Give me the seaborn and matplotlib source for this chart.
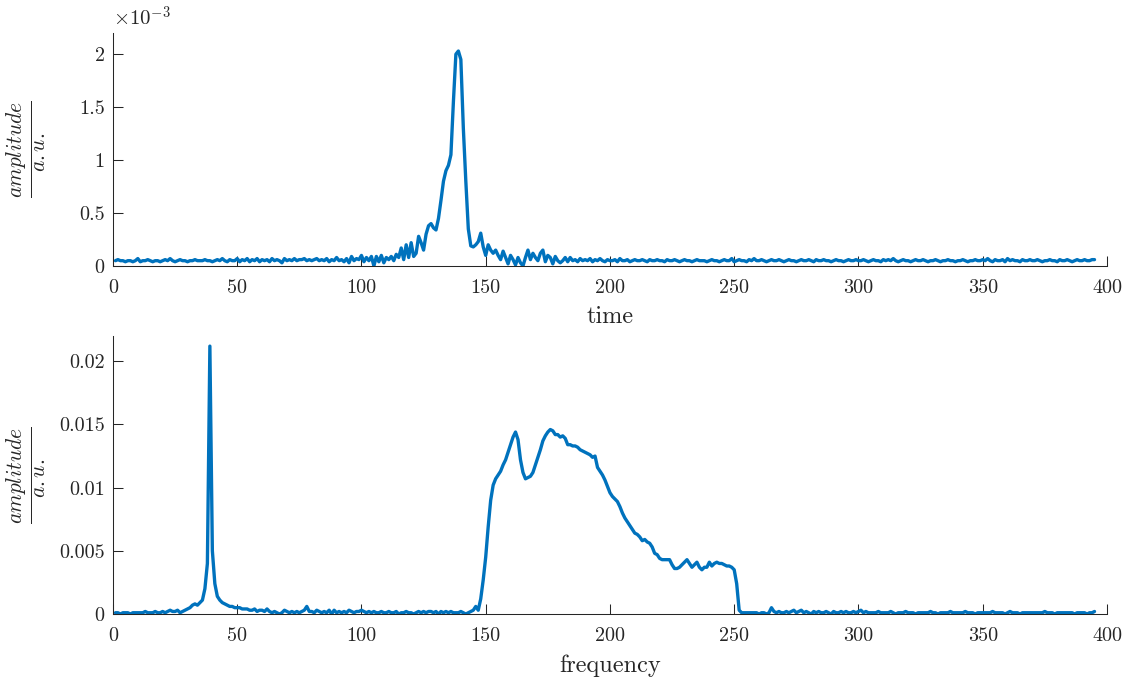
import numpy as np
import matplotlib
matplotlib.use("Agg")
import matplotlib.pyplot as plt
from matplotlib.ticker import FuncFormatter
import seaborn as sns

# time-domain amplitude, units of 1e-5 a.u. (samples 1..395)
top_e5 = [
    5, 6, 5, 5, 4, 5, 5, 4, 5, 7,
    4, 5, 5, 6, 5, 4, 5, 5, 4, 5,
    6, 5, 7, 5, 4, 5, 6, 5, 5, 4,
    5, 5, 6, 5, 5, 5, 6, 5, 5, 4,
    5, 6, 5, 7, 5, 4, 6, 5, 5, 7,
    4, 6, 5, 7, 4, 6, 5, 7, 4, 6,
    5, 6, 4, 7, 5, 6, 5, 3, 7, 5,
    6, 5, 7, 5, 6, 6, 7, 5, 6, 5,
    6, 7, 5, 6, 5, 7, 4, 6, 5, 8,
    5, 6, 4, 7, 3, 9, 5, 7, 6, 10,
    4, 8, 5, 9, 0, 9, 4, 10, 3, 8,
    6, 9, 5, 11, 8, 17, 6, 20, 8, 22,
    9, 12, 28, 22, 15, 30, 38, 40, 36, 34,
    45, 62, 80, 90, 95, 105, 155, 200, 203, 195,
    130, 80, 35, 19, 18, 20, 23, 31, 18, 10,
    20, 15, 12, 15, 10, 6, 14, 8, 2, 10,
    6, 1, 8, 3, 0, 8, 15, 6, 12, 8,
    5, 12, 15, 4, 10, 8, 2, 9, 5, 3,
    5, 8, 4, 8, 5, 6, 4, 7, 5, 6,
    5, 7, 4, 6, 5, 7, 5, 4, 6, 5,
    5, 6, 4, 7, 5, 5, 6, 4, 5, 6,
    5, 5, 6, 5, 4, 6, 5, 5, 6, 5,
    5, 4, 6, 5, 5, 6, 5, 4, 5, 6,
    5, 5, 4, 5, 6, 5, 5, 5, 4, 5,
    6, 5, 5, 4, 5, 6, 5, 5, 7, 4,
    5, 6, 5, 5, 4, 6, 5, 7, 5, 5,
    6, 5, 4, 5, 6, 5, 5, 6, 5, 4,
    5, 6, 5, 5, 4, 5, 6, 5, 5, 6,
    5, 4, 6, 5, 5, 6, 5, 5, 4, 5,
    6, 5, 5, 4, 5, 6, 5, 5, 6, 5,
    5, 6, 5, 4, 5, 6, 5, 5, 4, 6,
    5, 6, 5, 7, 5, 4, 5, 6, 5, 5,
    4, 5, 6, 5, 5, 6, 5, 4, 5, 5,
    6, 5, 4, 5, 5, 6, 5, 5, 4, 5,
    5, 6, 5, 4, 5, 5, 6, 5, 5, 6,
    5, 7, 5, 4, 6, 5, 5, 6, 4, 7,
    5, 6, 5, 5, 4, 6, 5, 5, 6, 5,
    5, 6, 5, 4, 5, 5, 6, 5, 5, 4,
    6, 5, 5, 6, 5, 4, 5, 6, 5, 5,
    6, 5, 5, 6, 6,
]

# spectrum amplitude, units of 1e-4 a.u. (bins 1..395)
bottom_e4 = [
    1, 1, 0, 1, 1, 1, 0, 1, 1, 1,
    1, 1, 2, 1, 1, 1, 2, 1, 1, 2,
    1, 2, 3, 2, 2, 3, 1, 2, 3, 4,
    5, 7, 8, 7, 9, 11, 20, 40, 212, 50,
    24, 14, 11, 9, 8, 7, 6, 6, 5, 5,
    5, 4, 4, 4, 3, 3, 4, 2, 3, 3,
    2, 4, 2, 1, 2, 1, 0, 1, 3, 2,
    1, 2, 1, 2, 1, 2, 3, 6, 2, 2,
    1, 3, 2, 1, 2, 1, 3, 0, 3, 1,
    2, 1, 2, 1, 3, 2, 1, 2, 2, 3,
    2, 1, 2, 1, 2, 1, 1, 2, 1, 1,
    2, 1, 1, 2, 0, 1, 1, 2, 1, 1,
    0, 1, 2, 1, 2, 1, 2, 2, 1, 2,
    0, 2, 1, 2, 1, 2, 1, 1, 1, 2,
    1, 0, 1, 2, 3, 6, 3, 12, 27, 45,
    69, 90, 102, 107, 110, 113, 118, 122, 128, 134,
    140, 144, 138, 122, 112, 107, 108, 109, 112, 118,
    124, 130, 137, 141, 144, 146, 145, 142, 142, 140,
    141, 139, 134, 134, 133, 133, 132, 130, 129, 128,
    127, 126, 124, 125, 116, 113, 110, 106, 101, 96,
    93, 91, 89, 85, 80, 76, 73, 70, 67, 64,
    63, 61, 58, 59, 57, 56, 53, 48, 47, 44,
    43, 43, 43, 43, 39, 36, 36, 37, 39, 41,
    43, 40, 37, 39, 41, 37, 35, 37, 37, 41,
    38, 40, 41, 40, 40, 39, 38, 38, 37, 35,
    24, 3, 1, 1, 1, 1, 1, 1, 1, 0,
    1, 1, 0, 1, 5, 2, 1, 2, 1, 1,
    2, 1, 2, 3, 1, 2, 3, 1, 2, 1,
    0, 2, 1, 2, 1, 1, 2, 1, 0, 2,
    1, 1, 2, 1, 2, 1, 1, 2, 1, 2,
    3, 1, 2, 1, 1, 1, 1, 2, 1, 1,
    1, 1, 2, 1, 0, 1, 1, 1, 2, 1,
    1, 1, 0, 1, 1, 1, 1, 1, 2, 1,
    1, 0, 1, 1, 1, 1, 2, 1, 1, 1,
    1, 1, 2, 1, 1, 1, 0, 1, 1, 1,
    1, 1, 1, 2, 1, 1, 1, 1, 0, 1,
    2, 1, 1, 1, 0, 1, 1, 1, 1, 1,
    1, 1, 1, 1, 2, 1, 1, 1, 0, 1,
    1, 1, 1, 1, 1, 1, 0, 1, 1, 1,
    1, 0, 1, 1, 2,
]

top_amp = np.array(top_e5) * 1e-5
bottom_amp = np.array(bottom_e4) * 1e-4
t = np.arange(1, len(top_amp) + 1)
f = np.arange(1, len(bottom_amp) + 1)

xticks = [0, 50, 100, 150, 200, 250, 300, 350, 400]
top_yticks = [0, 0.5e-3, 1e-3, 1.5e-3, 2e-3]
bottom_yticks = [0, 0.005, 0.01, 0.015, 0.02]

sns.set_style("ticks")
plt.rcParams["font.family"] = ["cmr10"]
plt.rcParams["mathtext.fontset"] = "cm"
plt.rcParams["axes.formatter.use_mathtext"] = True

blue = "#0072BD"
dark = "#262626"

fig = plt.figure(figsize=(11.33, 6.82), dpi=100)
ax1 = fig.add_axes([0.0997, 0.610, 0.8773, 0.3416])
ax2 = fig.add_axes([0.0997, 0.0997, 0.8773, 0.4076])

sns.lineplot(x=t, y=top_amp, ax=ax1, color=blue, linewidth=2.4)
sns.lineplot(x=f, y=bottom_amp, ax=ax2, color=blue, linewidth=2.4)

for ax in (ax1, ax2):
    sns.despine(ax=ax)
    ax.set_xlim(0, 400)
    ax.set_xticks(xticks)
    ax.xaxis.set_major_formatter(FuncFormatter(lambda v, p: f"{v:g}"))
    ax.tick_params(direction="in", length=7, width=0.75, colors=dark,
                   labelsize=14.5, pad=6)
    ax.tick_params(axis="x", pad=9.5)
    for s in ("left", "bottom"):
        ax.spines[s].set_color(dark)
        ax.spines[s].set_linewidth(0.75)

ax1.set_ylim(0, 2.2e-3)
ax1.set_yticks(top_yticks)
ax1.yaxis.set_major_formatter(FuncFormatter(lambda v, p: f"{v * 1e3:g}"))
ax1.text(0.0, 1.015, r"$\times10^{-3}$", transform=ax1.transAxes,
         fontsize=15, color=dark, ha="left", va="bottom")

ax2.set_ylim(0, 0.022)
ax2.set_yticks(bottom_yticks)
ax2.yaxis.set_major_formatter(FuncFormatter(lambda v, p: f"{v:g}"))

ylab = r"$\frac{amplitude}{a.u.}$"
ax1.set_ylabel(ylab, fontsize=22, color=dark)
ax2.set_ylabel(ylab, fontsize=22, color=dark)
ax1.set_xlabel("time", fontsize=17.5, color=dark, labelpad=6.5)
ax2.set_xlabel("frequency", fontsize=17.5, color=dark, labelpad=6.5)
ax1.yaxis.set_label_coords(-0.064, 0.5)
ax2.yaxis.set_label_coords(-0.064, 0.5)

fig.savefig("out.png", dpi=100)
